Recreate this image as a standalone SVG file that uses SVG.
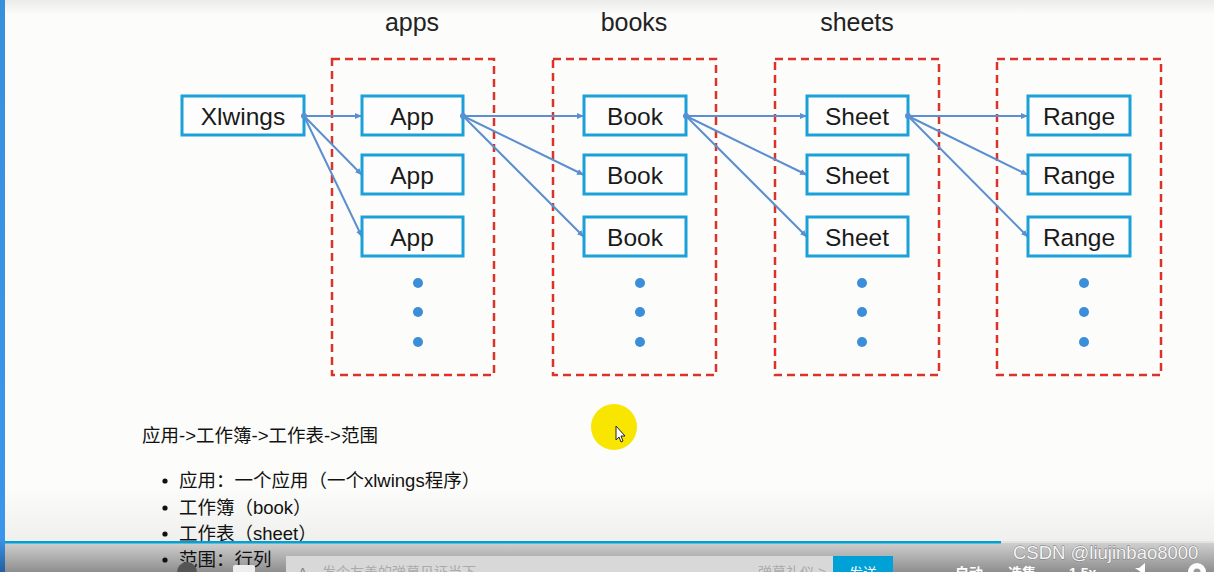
<svg xmlns="http://www.w3.org/2000/svg" width="1214" height="572" viewBox="0 0 1214 572">
<defs>
<linearGradient id="bg" x1="0" y1="0" x2="0" y2="1">
<stop offset="0" stop-color="#ebebe9"/>
<stop offset="0.025" stop-color="#fcfcfa"/>
<stop offset="0.85" stop-color="#fcfcfa"/>
<stop offset="1" stop-color="#e8e8e6"/>
</linearGradient>
<linearGradient id="bar" x1="0" y1="0" x2="0" y2="1">
<stop offset="0" stop-color="#cfcfcf"/>
<stop offset="1" stop-color="#8e8e8e"/>
</linearGradient>
<linearGradient id="strip" x1="0" y1="0" x2="0" y2="1">
<stop offset="0" stop-color="#3a8fdc"/>
<stop offset="0.94" stop-color="#3a96ec"/>
<stop offset="1" stop-color="#235f9e"/>
</linearGradient>
<marker id="ah" markerWidth="8" markerHeight="8" refX="7" refY="4" orient="auto" markerUnits="userSpaceOnUse">
<path d="M0,1 L7,4 L0,7 Z" fill="#5b8fcf"/>
</marker>
<style>
.grp{fill:none;stroke:#d8342b;stroke-width:2.5;stroke-dasharray:8 5}
.node rect{fill:#fdfdfd;stroke:#1ba0d8;stroke-width:3}
.node text{font-family:"Liberation Sans",Arial,sans-serif;font-size:24.5px;fill:#1a1a1a;text-anchor:middle}
.title{font-family:"Liberation Sans",Arial,sans-serif;font-size:25px;fill:#222;text-anchor:middle}
.edge{stroke:#5b8fcf;stroke-width:2;fill:none;marker-end:url(#ah)}
.dot{fill:#3a8fd8}
.src{fill:#5b8fcf}
.zh{font-family:"Liberation Sans","Noto Sans CJK SC",sans-serif;font-size:18.5px;fill:#111}
.ui{font-family:"Liberation Sans","Noto Sans CJK SC",sans-serif;font-size:14px}
</style>
</defs>
<rect width="1214" height="572" fill="url(#bg)"/>

<g id="titles">
<text class="title" x="412" y="31">apps</text>
<text class="title" x="634" y="31">books</text>
<text class="title" x="857" y="31">sheets</text>
</g>

<g id="groups">
<rect id="grp-apps" class="grp" x="332" y="59" width="162" height="316"/>
<rect id="grp-books" class="grp" x="553" y="59" width="163" height="316"/>
<rect id="grp-sheets" class="grp" x="775" y="59" width="164" height="316"/>
<rect id="grp-ranges" class="grp" x="997" y="59" width="164" height="316"/>
</g>

<g id="connectors">
<path class="edge" d="M304,116 L362,116"/>
<path class="edge" d="M304,116 L362,175"/>
<path class="edge" d="M304,116 L362,237"/>
<path class="edge" d="M463,116 L584,116"/>
<path class="edge" d="M463,116 L584,175"/>
<path class="edge" d="M463,116 L584,237"/>
<path class="edge" d="M686,116 L807,116"/>
<path class="edge" d="M686,116 L807,175"/>
<path class="edge" d="M686,116 L807,237"/>
<path class="edge" d="M908,116 L1028,116"/>
<path class="edge" d="M908,116 L1028,175"/>
<path class="edge" d="M908,116 L1028,237"/>
</g>

<g id="n-xlwings" class="node"><rect x="182" y="96" width="122" height="39"/><text x="243" y="125">Xlwings</text></g>

<g id="n-app1" class="node"><rect x="362" y="96" width="101" height="39"/><text x="412" y="125">App</text></g>
<g id="n-app2" class="node"><rect x="362" y="155" width="101" height="39"/><text x="412" y="184">App</text></g>
<g id="n-app3" class="node"><rect x="362" y="217" width="101" height="39"/><text x="412" y="246">App</text></g>

<g id="n-book1" class="node"><rect x="584" y="96" width="102" height="39"/><text x="635" y="125">Book</text></g>
<g id="n-book2" class="node"><rect x="584" y="155" width="102" height="39"/><text x="635" y="184">Book</text></g>
<g id="n-book3" class="node"><rect x="584" y="217" width="102" height="39"/><text x="635" y="246">Book</text></g>

<g id="n-sheet1" class="node"><rect x="807" y="96" width="101" height="39"/><text x="857" y="125">Sheet</text></g>
<g id="n-sheet2" class="node"><rect x="807" y="155" width="101" height="39"/><text x="857" y="184">Sheet</text></g>
<g id="n-sheet3" class="node"><rect x="807" y="217" width="101" height="39"/><text x="857" y="246">Sheet</text></g>

<g id="n-range1" class="node"><rect x="1028" y="96" width="102" height="39"/><text x="1079" y="125">Range</text></g>
<g id="n-range2" class="node"><rect x="1028" y="155" width="102" height="39"/><text x="1079" y="184">Range</text></g>
<g id="n-range3" class="node"><rect x="1028" y="217" width="102" height="39"/><text x="1079" y="246">Range</text></g>

<g id="src-dots">
<circle class="src" cx="304" cy="116" r="3"/>
<circle class="src" cx="463" cy="116" r="3"/>
<circle class="src" cx="686" cy="116" r="3"/>
<circle class="src" cx="908" cy="116" r="3"/>
</g>

<g id="ellipses">
<circle class="dot" cx="418" cy="283" r="5"/><circle class="dot" cx="418" cy="312" r="5"/><circle class="dot" cx="418" cy="342" r="5"/>
<circle class="dot" cx="640" cy="283" r="5"/><circle class="dot" cx="640" cy="312" r="5"/><circle class="dot" cx="640" cy="342" r="5"/>
<circle class="dot" cx="862" cy="283" r="5"/><circle class="dot" cx="862" cy="312" r="5"/><circle class="dot" cx="862" cy="342" r="5"/>
<circle class="dot" cx="1084" cy="283" r="5"/><circle class="dot" cx="1084" cy="312" r="5"/><circle class="dot" cx="1084" cy="342" r="5"/>
</g>

<g id="pointer">
<circle cx="614" cy="427" r="23" fill="#f8e500"/>
<path d="M616,426 L616,440 L619,437 L621,442 L623,441 L621,436 L625,436 Z" fill="#fff" stroke="#222" stroke-width="1"/>
</g>

<g id="notes">
<text class="zh" x="142" y="442">应用-&gt;工作簿-&gt;工作表-&gt;范围</text>
<circle cx="165" cy="481" r="2.6" fill="#111"/>
<text class="zh" x="179" y="487">应用：一个应用（一个xlwings程序）</text>
<circle cx="165" cy="508" r="2.6" fill="#111"/>
<text class="zh" x="179" y="514">工作簿（book）</text>
<circle cx="165" cy="534" r="2.6" fill="#111"/>
<text class="zh" x="179" y="540">工作表（sheet）</text>
</g>

<g id="player">
<rect x="0" y="543" width="1214" height="29" fill="url(#bar)"/>
<rect x="0" y="541" width="1214" height="2" fill="#e2e2e2"/>
<rect x="0" y="541" width="1001" height="2.5" fill="#00a1d6"/>
<circle cx="165" cy="560" r="2.6" fill="#111"/>
<text class="zh" x="179" y="566">范围：行列</text>
<circle cx="187" cy="572" r="10" fill="#555"/>
<rect x="233" y="565" width="22" height="10" rx="2" fill="#eee"/>
<rect x="286" y="556" width="547" height="18" fill="#d8d8d8"/>
<text class="ui" x="298" y="578" fill="#888">A</text>
<text class="ui" x="322" y="577" fill="#aaa" font-size="12px">发个友善的弹幕见证当下</text>
<text class="ui" x="758" y="577" fill="#aaa" font-size="12px">弹幕礼仪 &gt;</text>
<rect x="833" y="556" width="60" height="18" fill="#00a1d6"/>
<text class="ui" x="849" y="578" fill="#fff">发送</text>
<text class="ui" x="955" y="578" fill="#fff" font-weight="bold" font-size="16px">自动</text>
<text class="ui" x="1008" y="578" fill="#fff" font-weight="bold" font-size="16px">选集</text>
<text class="ui" x="1069" y="578" fill="#fff" font-weight="bold" font-size="16px">1.5x</text>
<path d="M1135,568 h4 l6,-5 v12 z" fill="#fff"/>
<circle cx="1197" cy="572" r="9" fill="#fff"/>
<circle cx="1197" cy="572" r="3.5" fill="#999"/>
<text x="1013" y="559" font-family="'Liberation Sans',Arial,sans-serif" font-size="18.5px" fill="#f4f4f4" stroke="#777" stroke-width="0.8" paint-order="stroke">CSDN @liujinbao8000</text>
</g>

<rect x="0" y="0" width="5" height="572" fill="url(#strip)"/>
</svg>
